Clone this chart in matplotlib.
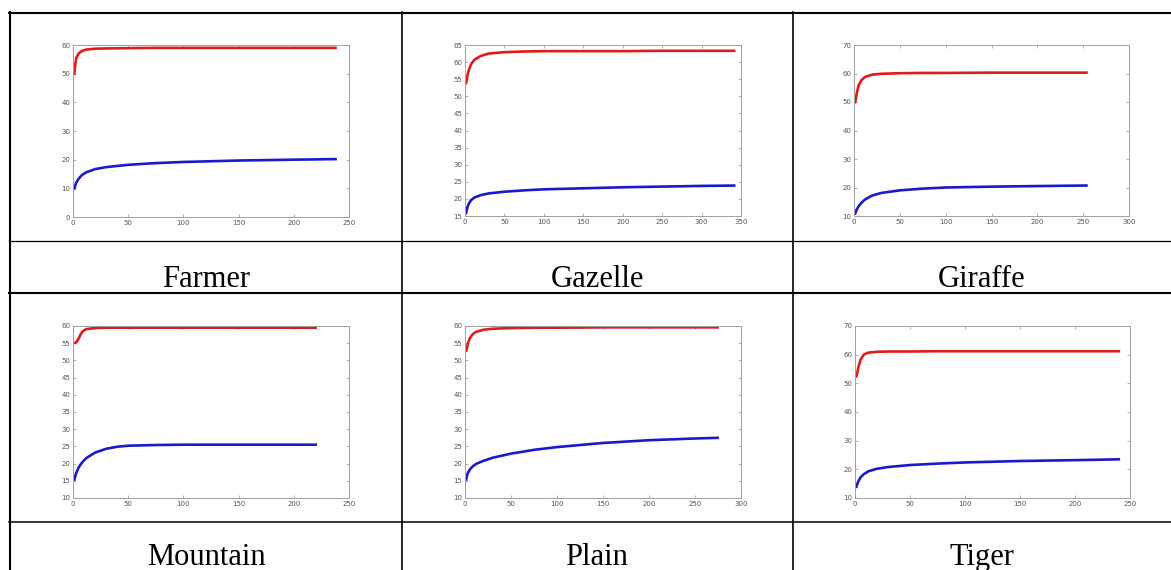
import matplotlib
matplotlib.use("Agg")
import matplotlib.pyplot as plt
from matplotlib.lines import Line2D

W, H = 1171, 570

names = ["Farmer", "Gazelle", "Giraffe", "Mountain", "Plain", "Tiger"]

farmer_x = [1, 2, 3, 5, 8, 12, 20, 30, 50, 75, 100, 150, 200, 239]
farmer_red = [49.5, 53, 55.5, 57, 57.9, 58.4, 58.7, 58.8, 58.9, 59, 59, 59, 59, 59]
farmer_blue = [9.5, 11, 12, 13.3, 14.6, 15.6, 16.7, 17.4, 18.2, 18.8, 19.2, 19.7, 20.0, 20.2]

gazelle_x = [1, 2, 3, 5, 8, 12, 20, 30, 50, 75, 100, 150, 200, 250, 300, 343]
gazelle_red = [53.5, 54.5, 56, 57.8, 59.5, 60.7, 61.8, 62.5, 62.9, 63.1, 63.2, 63.2, 63.2, 63.3, 63.3, 63.3]
gazelle_blue = [15.5, 16.5, 17.5, 18.7, 19.7, 20.4, 21.1, 21.6, 22.1, 22.5, 22.8, 23.1, 23.4, 23.6, 23.8, 23.9]

giraffe_x = [1, 2, 3, 5, 8, 12, 20, 30, 50, 75, 100, 150, 200, 255]
giraffe_red = [49.5, 51, 53, 55.8, 57.6, 58.8, 59.6, 59.9, 60.1, 60.2, 60.2, 60.3, 60.3, 60.3]
giraffe_blue = [10.4, 11.5, 12.3, 13.4, 14.6, 15.8, 17.2, 18.1, 19.0, 19.6, 20.0, 20.3, 20.5, 20.7]

mountain_x = [1, 2, 3, 5, 7, 9, 12, 20, 30, 40, 50, 75, 100, 150, 221]
mountain_red = [55.0, 55.1, 55.3, 56.3, 57.6, 58.5, 59.1, 59.4, 59.5, 59.5, 59.5, 59.5, 59.5, 59.5, 59.5]
mountain_blue = [15, 16.3, 17.3, 18.8, 19.8, 20.6, 21.6, 23.2, 24.3, 24.9, 25.2, 25.4, 25.5, 25.5, 25.5]

plain_x = [1, 2, 3, 5, 8, 12, 20, 30, 50, 75, 100, 150, 200, 250, 276]
plain_red = [52.5, 53.5, 54.8, 56.3, 57.5, 58.3, 58.9, 59.2, 59.4, 59.5, 59.5, 59.6, 59.6, 59.6, 59.6]
plain_blue = [15, 16.3, 17.2, 18.2, 19.1, 19.9, 20.8, 21.7, 22.9, 24.0, 24.8, 26.0, 26.8, 27.3, 27.5]

tiger_x = [1, 2, 3, 5, 8, 12, 20, 30, 50, 75, 100, 150, 200, 241]
tiger_red = [52, 53.5, 55.5, 58.2, 60.0, 60.7, 61.0, 61.1, 61.1, 61.2, 61.2, 61.2, 61.2, 61.2]
tiger_blue = [13.5, 14.8, 15.8, 17.2, 18.3, 19.3, 20.2, 20.8, 21.5, 22.0, 22.4, 22.9, 23.2, 23.5]

series = [
    (farmer_x, farmer_red, farmer_blue),
    (gazelle_x, gazelle_red, gazelle_blue),
    (giraffe_x, giraffe_red, giraffe_blue),
    (mountain_x, mountain_red, mountain_blue),
    (plain_x, plain_red, plain_blue),
    (tiger_x, tiger_red, tiger_blue),
]
xlims = [250, 350, 300, 250, 300, 250]
ylims = [(0, 60, 10), (15, 65, 5), (10, 70, 10), (10, 60, 5), (10, 60, 5), (10, 70, 10)]

# axes boxes in pixels: left, right, top, bottom
boxes = [(73, 349, 45, 217), (465, 741, 45, 216), (854, 1129, 45, 216),
         (73, 349, 326, 498), (465, 741, 326, 498), (855, 1130, 326, 498)]

fig = plt.figure(figsize=(W / 100, H / 100), dpi=100)

def fx(x):
    return x / W

def fy(y):
    return 1 - y / H

for i in range(6):
    l, r, t, b = boxes[i]
    ax = fig.add_axes([fx(l), fy(b), (r - l) / W, (b - t) / H])
    x, red, blue = series[i]
    ax.plot(x, red, color="#e01b1b", lw=1.9, solid_capstyle="butt")
    ax.plot(x, blue, color="#1a1acc", lw=1.9, solid_capstyle="butt")
    ax.set_xlim(0, xlims[i])
    y0, y1, step = ylims[i]
    ax.set_ylim(y0, y1)
    ax.set_yticks(range(y0, y1 + 1, step))
    ax.set_xticks(range(0, xlims[i] + 1, 50))
    ax.tick_params(direction="in", length=2.5, width=0.5, colors="#909090",
                   labelcolor="#555555", labelsize=5, pad=2,
                   top=True, right=True)
    for s in ax.spines.values():
        s.set_color("#a0a0a0")
        s.set_linewidth(0.7)

# table grid
def hline(y, x0, x1, lw):
    fig.add_artist(Line2D([fx(x0), fx(x1)], [fy(y), fy(y)], color="black", lw=lw))

def vline(x, y0, y1, lw):
    fig.add_artist(Line2D([fx(x), fx(x)], [fy(y0), fy(y1)], color="black", lw=lw))

hline(13, 9, 1171, 1.5)
hline(240.5, 9, 1171, 0.9)
hline(293, 9, 1171, 1.5)
hline(522, 9, 1171, 1.1)
vline(10, 12, 570, 1.5)
vline(402, 12, 570, 1.2)
vline(793, 12, 570, 1.2)

centers = [206, 597, 982]
baselines = [287, 565]
for i, name in enumerate(names):
    fig.text(fx(centers[i % 3]), fy(baselines[i // 3]), name, ha="center",
             va="baseline", fontsize=22, family="Liberation Serif", color="black")

plt.savefig("out.png", dpi=100)
